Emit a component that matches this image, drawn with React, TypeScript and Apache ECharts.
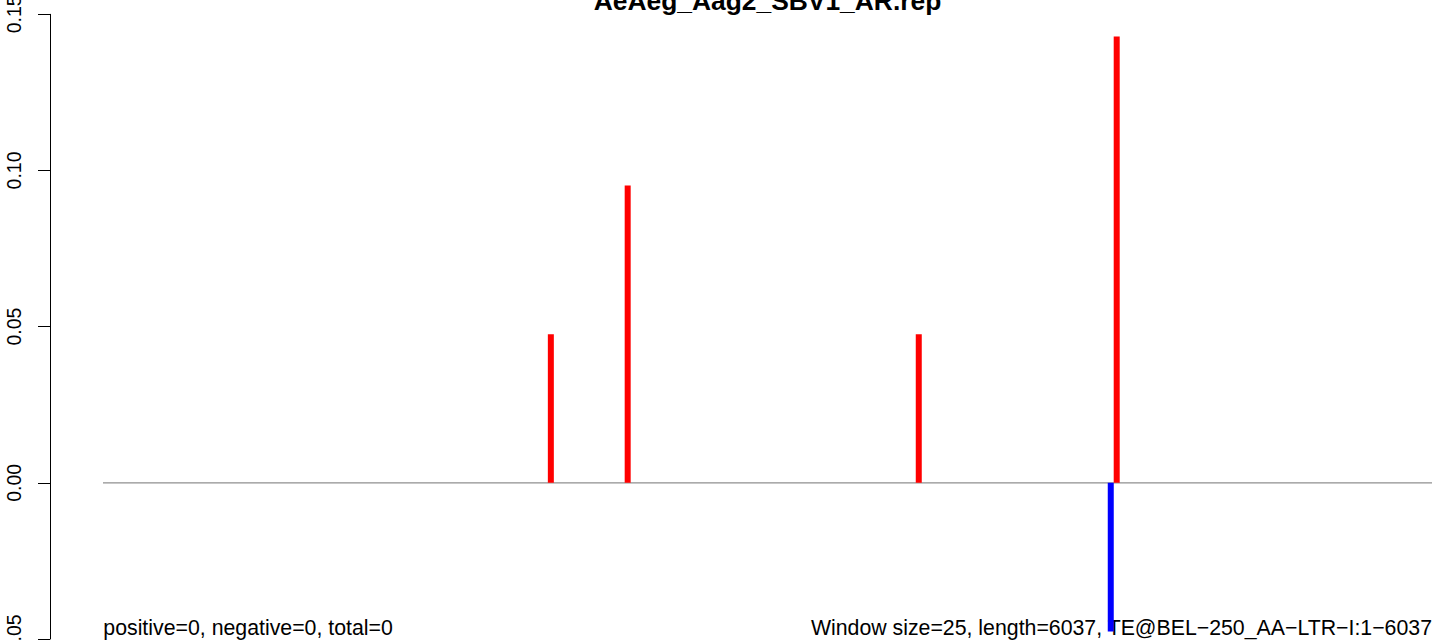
import React, { useEffect, useRef } from "react";
import * as echarts from "echarts";

const TITLE = "AeAeg_Aag2_SBV1_AR.rep";
const LEFT_NOTE = "positive=0, negative=0, total=0";
const RIGHT_NOTE = "Window size=25, length=6037, TE@BEL\u2212250_AA\u2212LTR\u2212I:1\u22126037";

const X_MIN = 1;
const X_MAX = 6037;
const Y_MIN = -0.05;
const Y_MAX = 0.15;
const Y_STEP = 0.05;

const positivePositions = [2035, 2384, 3706, 4605];
const positiveValues = [0.0476, 0.0952, 0.0476, 0.1429];
const negativePositions = [4578];
const negativeValues = [-0.0476];
const baselinePositions = [X_MIN, X_MAX];
const baselineValues = [0, 0];

const FONT = "'Liberation Sans', Arial, Helvetica, sans-serif";

export default function App() {
  const ref = useRef<HTMLDivElement>(null);
  useEffect(() => {
    if (!ref.current) return;
    const chart = echarts.init(ref.current, null, { renderer: "svg" });
    const fs = 19.5;
    const nfs = 21.3;
    const tfs = 26.4;
    chart.setOption({
      animation: false,
      backgroundColor: "#ffffff",
      grid: {
        left: 103,
        right: 9,
        top: 14.3,
        bottom: 2,
        containLabel: false,
        outerBoundsMode: "none",
      },
      xAxis: {
        type: "value",
        min: X_MIN,
        max: X_MAX,
        show: false,
      },
      yAxis: {
        type: "value",
        min: Y_MIN,
        max: Y_MAX,
        interval: Y_STEP,
        offset: 53,
        axisLine: { show: true, lineStyle: { color: "#000", width: 1 } },
        axisTick: { show: true, length: 12, lineStyle: { color: "#000", width: 1 } },
        splitLine: { show: false },
        axisLabel: {
          rotate: 90,
          margin: 26,
          fontSize: fs,
          fontFamily: FONT,
          color: "#000",
          showMinLabel: true,
          showMaxLabel: true,
          formatter: (v: number) => v.toFixed(2).replace("-", "\u2212"),
        },
      },
      series: [
        {
          type: "line",
          data: baselinePositions.map((x, i) => [x, baselineValues[i]]),
          symbol: "none",
          lineStyle: { color: "#8f8f8f", width: 1.2 },
          z: 1,
          silent: true,
        },
        {
          type: "bar",
          data: positivePositions.map((x, i) => [x, positiveValues[i]]),
          barWidth: 6,
          barGap: "-100%",
          itemStyle: { color: "#ff0000" },
          z: 5,
        },
        {
          type: "bar",
          data: negativePositions.map((x, i) => [x, negativeValues[i]]),
          barWidth: 6,
          barGap: "-100%",
          itemStyle: { color: "#0000ff" },
          z: 5,
        },
      ],
      graphic: [
        {
          type: "text",
          z: 0,
          x: 767.5,
          y: 10 - 0.3465 * tfs,
          style: {
            text: TITLE,
            font: `bold ${tfs}px ${FONT}`,
            fill: "#000",
            textAlign: "center",
            textVerticalAlign: "middle",
          },
        },
        {
          type: "text",
          z: 0,
          x: 103.3,
          y: 635 - 0.3465 * nfs,
          style: {
            text: LEFT_NOTE,
            font: `${nfs}px ${FONT}`,
            fill: "#000",
            textAlign: "left",
            textVerticalAlign: "middle",
          },
        },
        {
          type: "text",
          z: 0,
          x: 1432,
          y: 635 - 0.3465 * nfs,
          style: {
            text: RIGHT_NOTE,
            font: `${nfs}px ${FONT}`,
            fill: "#000",
            textAlign: "right",
            textVerticalAlign: "middle",
          },
        },
      ],
    });
    return () => chart.dispose();
  }, []);
  return (
    <div
      ref={ref}
      style={{ position: "absolute", left: 0, top: 0, width: 1441, height: 641 }}
    />
  );
}
